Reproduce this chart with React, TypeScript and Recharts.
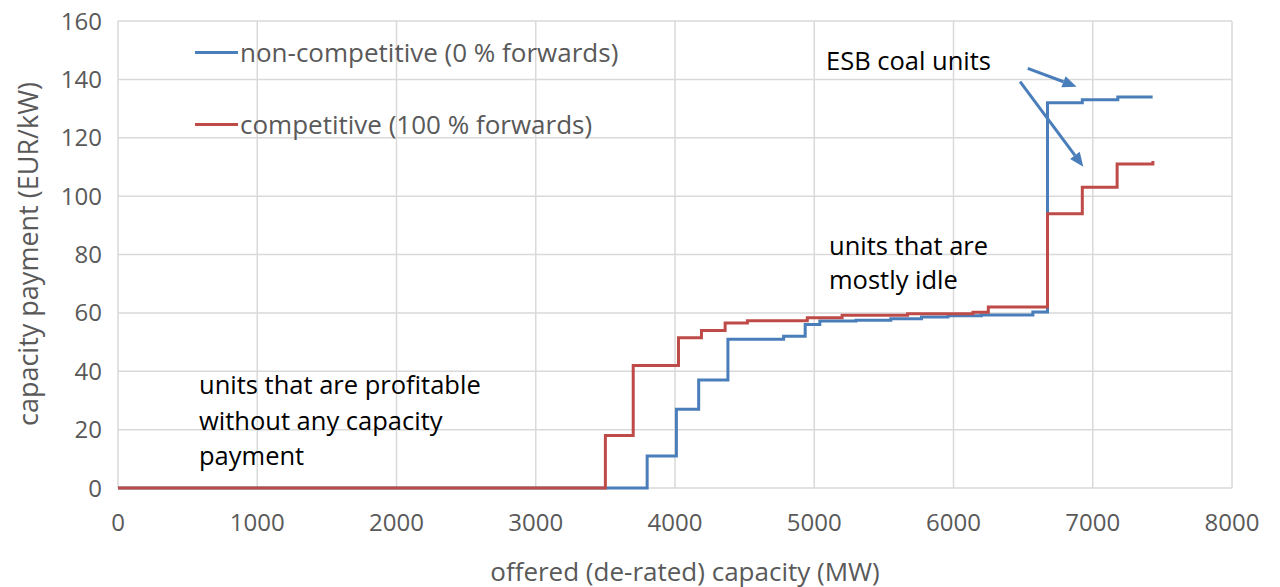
import React from "react";
import { LineChart, Line, XAxis, YAxis, CartesianGrid, ReferenceLine } from "recharts";

// non-competitive (0 % forwards)
const blueX = [0, 3800, 4010, 4170, 4380, 4780, 4935, 5040, 5300, 5550, 5770, 5960, 6200, 6570, 6675, 6925, 7180, 7430];
const blueY = [0, 11, 27, 37, 51, 52, 56, 57.2, 57.5, 58, 58.6, 59, 59.3, 60.3, 132, 133, 134, 134];
// competitive (100 % forwards)
const redX = [0, 3500, 3700, 4025, 4190, 4360, 4520, 4950, 5200, 5670, 6140, 6250, 6675, 6925, 7175, 7428, 7432];
const redY = [0, 18, 42, 51.5, 54, 56.5, 57.3, 58.3, 59.2, 59.7, 60.2, 62, 94, 103, 111, 111, 112];

const xTicks = [0, 1000, 2000, 3000, 4000, 5000, 6000, 7000, 8000];
const yTicks = [0, 20, 40, 60, 80, 100, 120, 140, 160];

const blueName = "non-competitive (0 % forwards)";
const redName = "competitive (100 % forwards)";

// annotation arrows (data coordinates)
const arrows = [
  { x1: 6533, y1: 143.8, x2: 6884, y2: 137.5 },
  { x1: 6478, y1: 139.2, x2: 6932, y2: 110.1 },
];

const blueData = blueX.map((x, i) => ({ x, y: blueY[i] }));
const redData = redX.map((x, i) => ({ x, y: redY[i] }));

const FONT = "'Open Sans', sans-serif";
const BLUE = "#4a7ebb";
const RED = "#be4b48";
const GRID = "#d9d9d9";

const Arrow = (props: any) => {
  const { x1, y1, x2, y2 } = props;
  const dx = x2 - x1;
  const dy = y2 - y1;
  const len = Math.sqrt(dx * dx + dy * dy);
  const ux = dx / len;
  const uy = dy / len;
  const hl = 14;
  const hw = 6;
  const bx = x2 - ux * hl;
  const by = y2 - uy * hl;
  const p1 = `${x2},${y2}`;
  const p2 = `${bx - uy * hw},${by + ux * hw}`;
  const p3 = `${bx + uy * hw},${by - ux * hw}`;
  return (
    <g>
      <line x1={x1} y1={y1} x2={bx} y2={by} stroke={BLUE} strokeWidth={3} />
      <polygon points={`${p1} ${p2} ${p3}`} fill={BLUE} />
    </g>
  );
};

const textStyle: React.CSSProperties = {
  position: "absolute",
  fontFamily: FONT,
  whiteSpace: "nowrap",
};

export default function App() {
  return (
    <div style={{ position: "absolute", left: 0, top: 0, width: 1280, height: 587, background: "#fff" }}>
      <LineChart
        width={1280}
        height={587}
        margin={{ top: 21, right: 48, bottom: 69, left: 58 }}
      >
        <CartesianGrid stroke={GRID} strokeWidth={1.5} />
        <XAxis
          type="number"
          dataKey="x"
          domain={[0, 8000]}
          ticks={xTicks}
          height={30}
          tickLine={false}
          axisLine={false}
          tickMargin={20}
          tick={{ fontSize: 24, fill: "#595959", fontFamily: FONT }}
        />
        <YAxis
          type="number"
          dataKey="y"
          domain={[0, 160]}
          ticks={yTicks}
          width={60}
          tickLine={false}
          axisLine={false}
          tickMargin={10}
          tick={{ fontSize: 24, fill: "#595959", fontFamily: FONT }}
        />
        <Line
          data={blueData}
          dataKey="y"
          type="stepAfter"
          stroke={BLUE}
          strokeWidth={3}
          dot={false}
          isAnimationActive={false}
          name={blueName}
        />
        <Line
          data={redData}
          dataKey="y"
          type="stepAfter"
          stroke={RED}
          strokeWidth={3}
          dot={false}
          isAnimationActive={false}
          name={redName}
        />
        {arrows.map((a, i) => (
          <ReferenceLine
            key={i}
            segment={[{ x: a.x1, y: a.y1 }, { x: a.x2, y: a.y2 }]}
            shape={Arrow}
            ifOverflow="visible"
          />
        ))}
      </LineChart>

      {/* legend */}
      <div style={{ position: "absolute", left: 195, top: 51, width: 43, height: 3, background: BLUE }} />
      <div style={{ ...textStyle, left: 240, top: 34, fontSize: 26, color: "#595959" }}>{blueName}</div>
      <div style={{ position: "absolute", left: 195, top: 123, width: 43, height: 3, background: RED }} />
      <div style={{ ...textStyle, left: 240, top: 106, fontSize: 26, color: "#595959" }}>{redName}</div>

      {/* annotations */}
      <div style={{ ...textStyle, left: 826, top: 43, fontSize: 25.5, color: "#000" }}>ESB coal units</div>
      <div style={{ ...textStyle, left: 829, top: 228, fontSize: 25.5, color: "#000", lineHeight: "34px" }}>
        units that are<br />mostly idle
      </div>
      <div style={{ ...textStyle, left: 199, top: 367, fontSize: 25.5, color: "#000", lineHeight: "35.5px" }}>
        units that are profitable<br />without any capacity<br />payment
      </div>

      {/* axis titles */}
      <div style={{ ...textStyle, left: 0, top: 553, width: 1370, textAlign: "center", fontSize: 26, color: "#595959" }}>
        offered (de-rated) capacity (MW)
      </div>
      <div
        style={{
          ...textStyle,
          left: 27,
          top: 254,
          fontSize: 27,
          color: "#595959",
          transform: "translate(-50%, -50%) rotate(-90deg)",
        }}
      >
        capacity payment (EUR/kW)
      </div>
    </div>
  );
}
